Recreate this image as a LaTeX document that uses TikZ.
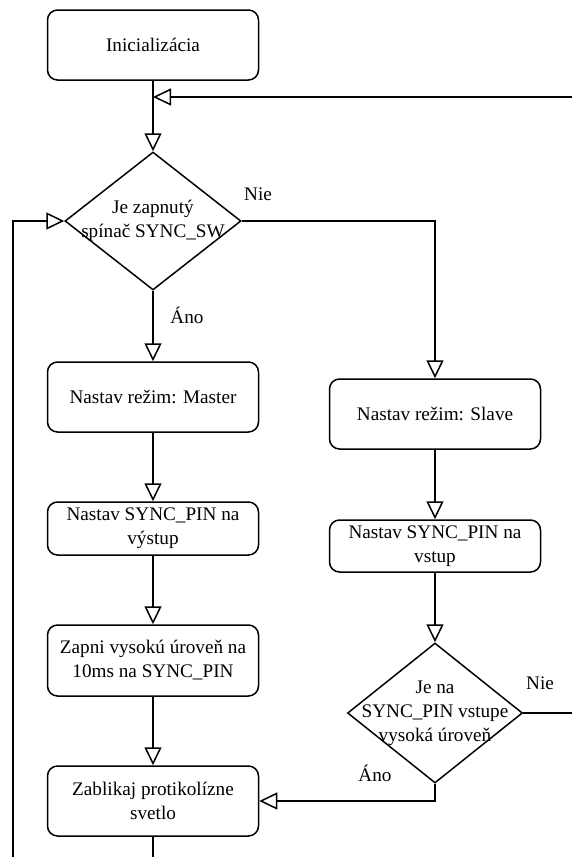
\documentclass[tikz,border=0pt]{standalone}
\usepackage{fontspec}
\setmainfont{LiberationSerif}[Extension=.ttf, UprightFont=*-Regular, BoldFont=*-Bold]
\usetikzlibrary{shapes.geometric, arrows.meta}

\begin{document}
\begin{tikzpicture}[x=0.5pt, y=-0.5pt,
  every node/.style={font=\fontsize{9.6}{12}\selectfont},
  krok/.style={draw, rounded corners=5pt, minimum width=105.5pt, align=center, inner sep=2pt, line width=0.75pt},
  rozhod/.style={draw, diamond, inner sep=0pt, line width=0.75pt},
  tok/.style={-{Triangle[open, length=9pt, width=8.5pt]}, line width=0.75pt},
  ciara/.style={line width=0.75pt}]

  \useasboundingbox (0,0) rectangle (572,857);

  % lava vetva - Master
  \node[krok, minimum height=35pt] (init) at (153,45) {Inicializácia};
  \node[rozhod, minimum width=88pt, minimum height=69pt] (sw) at (153,221) {};
  \node[align=center] (swtext) at (sw.center) {Je zapnutý\\spínač SYNC\_SW};
  \node[krok, minimum height=35pt] (master) at (153,397) {Nastav režim: Master};
  \node[krok, minimum height=26.5pt] (pinout) at (153,528.5) {Nastav SYNC\_PIN na\\výstup};
  \node[krok, minimum height=35.5pt] (impulz) at (153,660.5) {Zapni vysokú úroveň na\\10ms na SYNC\_PIN};
  \node[krok, minimum height=35pt] (blik) at (153,801) {Zablikaj protikolízne\\svetlo};

  % prava vetva - Slave
  \node[krok, minimum height=35pt] (slave) at (435,414) {Nastav režim: Slave};
  \node[krok, minimum height=26pt] (pinin) at (435,546) {Nastav SYNC\_PIN na\\vstup};
  \node[rozhod, minimum width=87.5pt, minimum height=70pt] (pin) at (435,713) {};
  \node[align=center] (pintext) at (pin.center) {Je na\\SYNC\_PIN vstupe\\vysoká úroveň};

  % popisy vetiev
  \node (nie1) at (258,194) {Nie};
  \node (ano1) at (187,315) {Áno};
  \node (nie2) at (540,683) {Nie};
  \node (ano2) at (375,773) {Áno};

  % pomocne body pre slucky
  \coordinate (navrat) at (572,97);
  \coordinate (spoj) at (153,97);
  \coordinate (zlava) at (13,857);
  \coordinate (dole) at (153,857);
  \coordinate (vpravo) at (572,713);

  % spojenia
  \draw[ciara] (init.south) -- (spoj);
  \draw[tok] (spoj) -- (sw.north);
  \draw[tok] (navrat) -- (spoj);
  \draw[tok] (sw.south) -- (master.north);
  \draw[tok] (sw.east) -| (slave.north);
  \draw[tok] (zlava) |- (sw.west);
  \draw[tok] (master) -- (pinout);
  \draw[tok] (pinout) -- (impulz);
  \draw[tok] (impulz) -- (blik);
  \draw[ciara] (blik.south) -- (dole);
  \draw[tok] (slave) -- (pinin);
  \draw[tok] (pinin) -- (pin.north);
  \draw[ciara] (pin.east) -- (vpravo);
  \draw[tok] (pin.south) |- (blik.east);

\end{tikzpicture}
\end{document}
